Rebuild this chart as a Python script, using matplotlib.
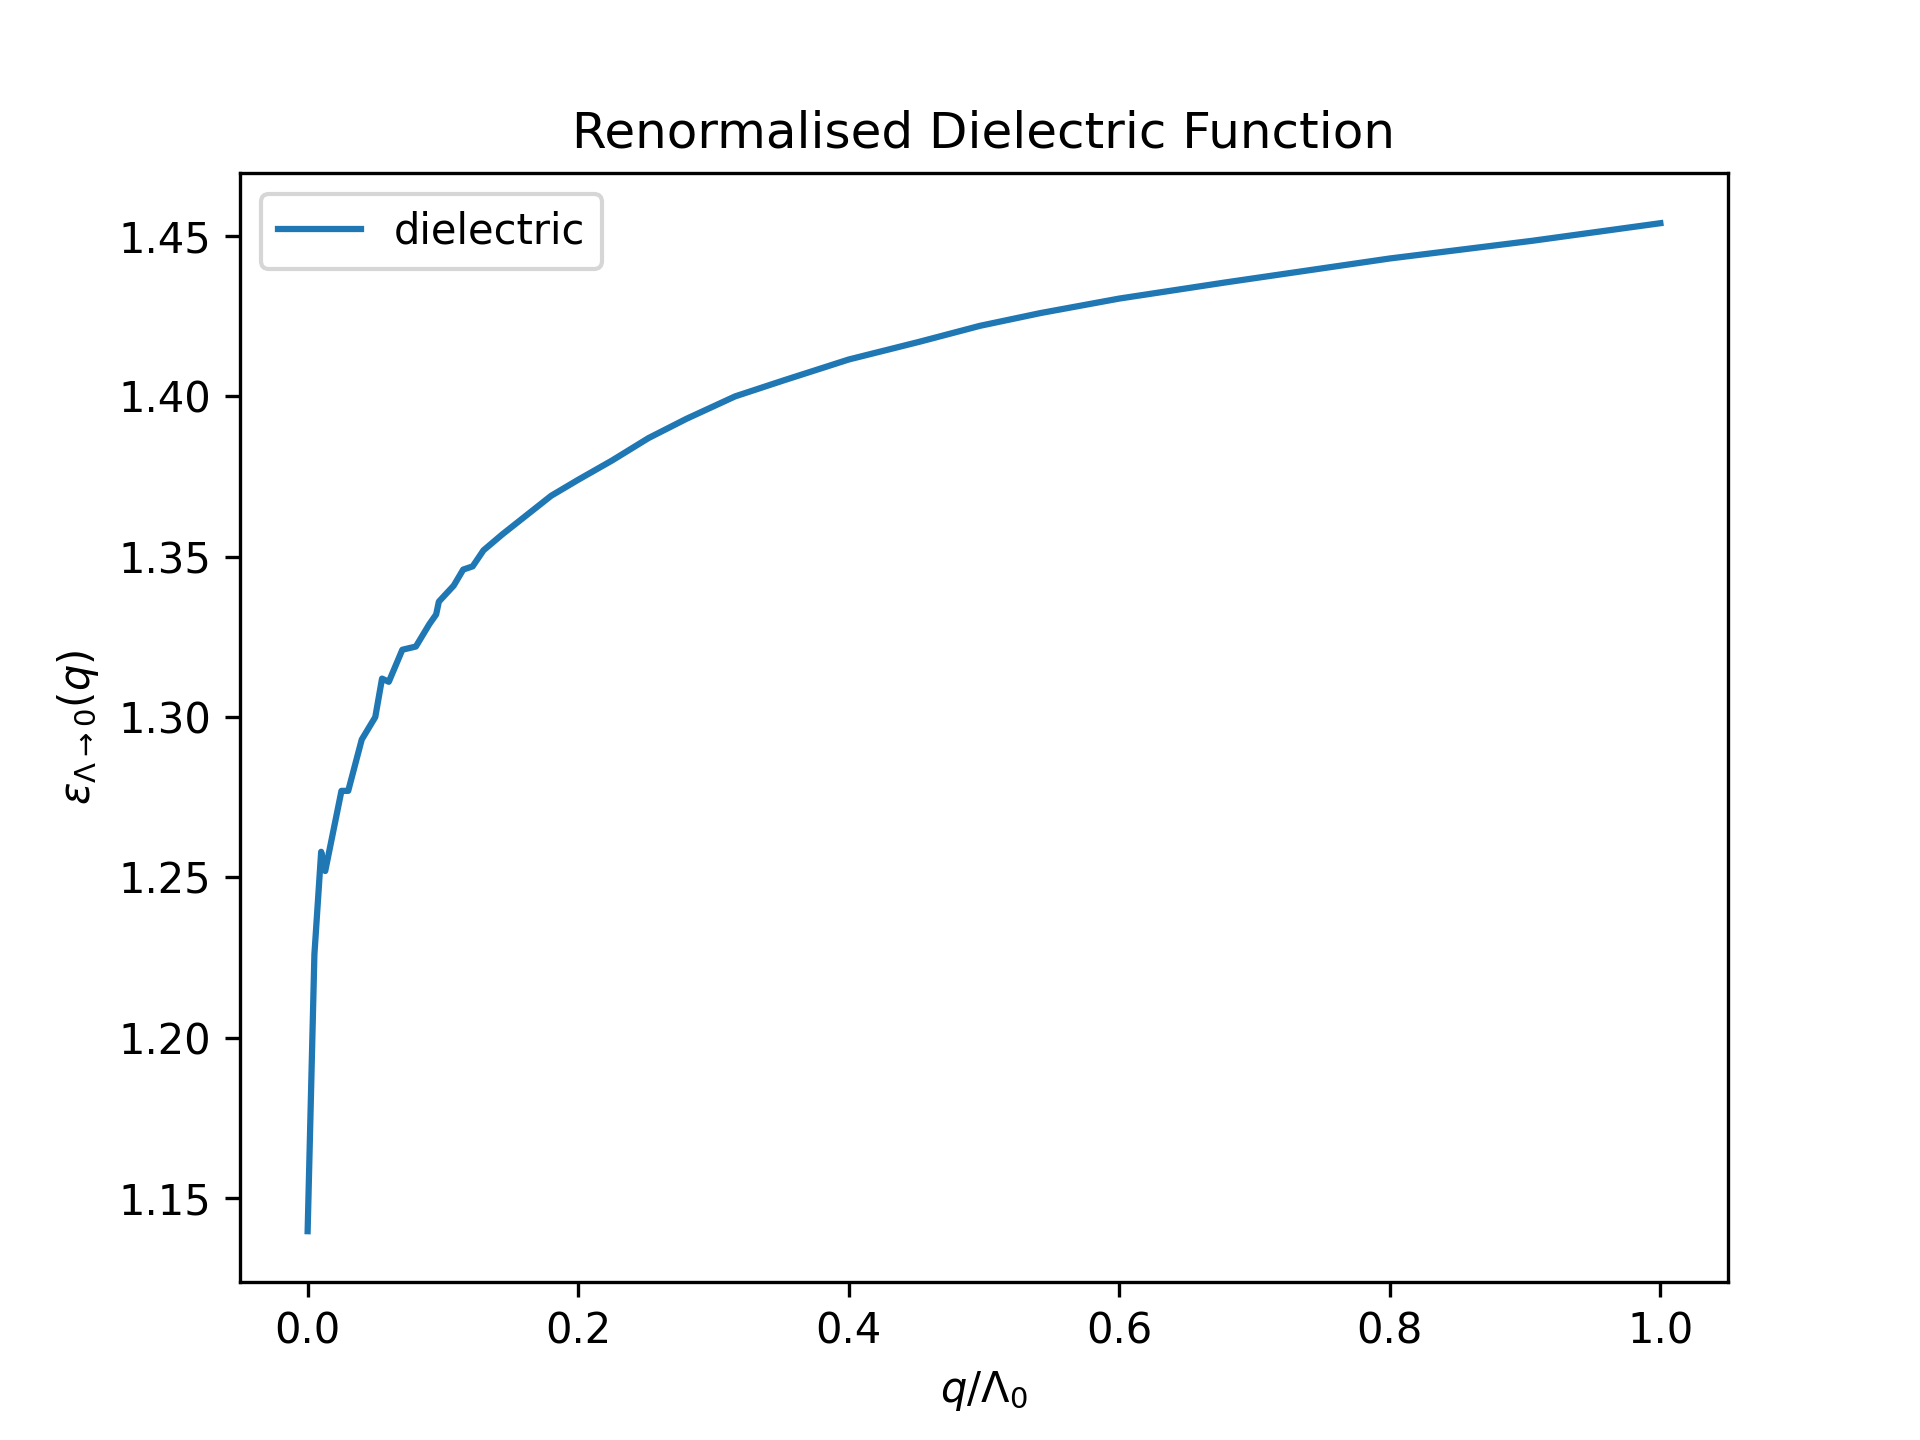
import numpy as np
import matplotlib
matplotlib.use("Agg")
import matplotlib.pyplot as plt

# values
q = [0.0, 0.005, 0.01, 0.013, 0.025, 0.03, 0.04, 0.05, 0.055, 0.06, 0.07, 0.08,
     0.09, 0.095, 0.097, 0.108, 0.115, 0.122, 0.13, 0.144, 0.162, 0.18, 0.2,
     0.225, 0.252, 0.28, 0.316, 0.352, 0.4, 0.452, 0.497, 0.542, 0.6, 0.678,
     0.8, 0.905, 1.0]
eps = [1.1397, 1.226, 1.258, 1.252, 1.277, 1.277, 1.293, 1.300, 1.312, 1.311,
       1.321, 1.322, 1.329, 1.332, 1.336, 1.341, 1.346, 1.347, 1.352, 1.357,
       1.363, 1.369, 1.374, 1.380, 1.387, 1.393, 1.400, 1.405, 1.4115, 1.417,
       1.422, 1.426, 1.4305, 1.4355, 1.443, 1.4485, 1.454]

fig, ax = plt.subplots(figsize=(6.4, 4.8), dpi=300)
ax.plot(q, eps, label="dielectric")
ax.set_title("Renormalised Dielectric Function")
ax.set_xlabel(r"$q/\Lambda_0$")
ax.set_ylabel(r"$\varepsilon_{\Lambda\to 0}(q)$")
ax.legend(loc="upper left")
fig.savefig("out.png", dpi=300)
